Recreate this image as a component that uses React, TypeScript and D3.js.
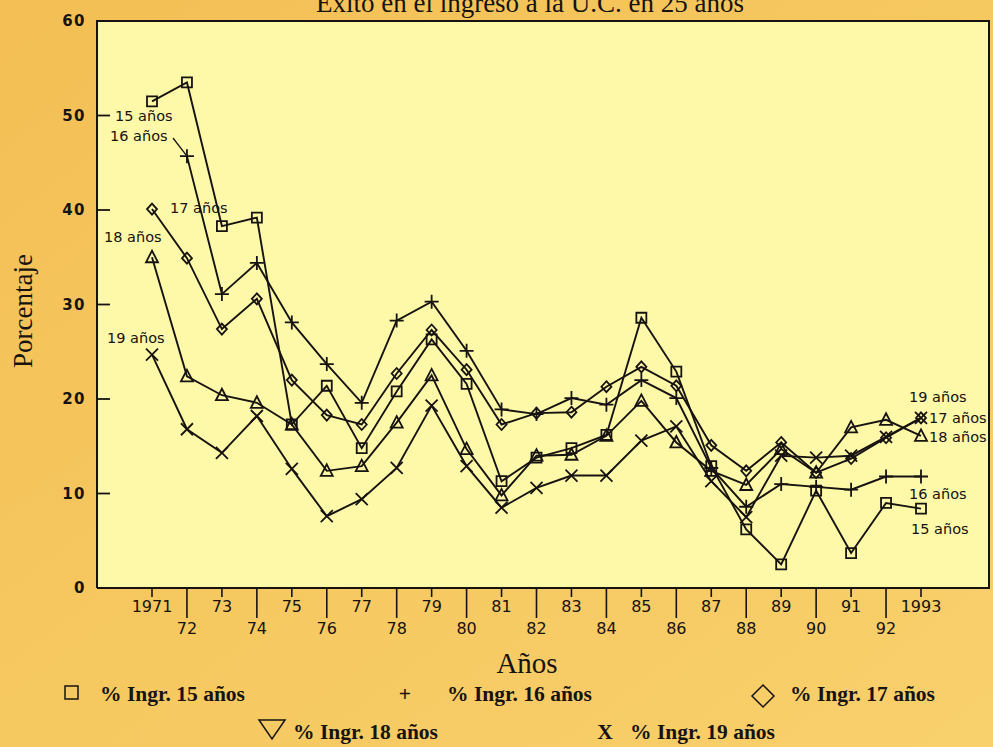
import React, { useEffect } from "react";
import * as d3 from "d3";

const years = [1971, 1972, 1973, 1974, 1975, 1976, 1977, 1978, 1979, 1980, 1981, 1982, 1983, 1984, 1985, 1986, 1987, 1988, 1989, 1990, 1991, 1992, 1993];
const s15 = [51.5, 53.5, 38.3, 39.2, 17.3, 21.4, 14.8, 20.8, 26.3, 21.6, 11.3, 13.8, 14.8, 16.2, 28.6, 22.9, 12.9, 6.2, 2.5, 10.3, 3.7, 9.0, 8.4];
const s16 = [null, 45.7, 31.1, 34.4, 28.1, 23.7, 19.6, 28.3, 30.3, 25.1, 18.9, 18.4, 20.1, 19.4, 22.0, 20.1, 12.7, 8.6, 11.0, 10.7, 10.4, 11.8, 11.8];
const s17 = [40.1, 34.9, 27.4, 30.6, 22.0, 18.3, 17.3, 22.7, 27.3, 23.1, 17.3, 18.5, 18.6, 21.3, 23.4, 21.4, 15.1, 12.4, 15.4, 12.2, 13.7, 15.9, 18.0];
const s18 = [35.0, 22.4, 20.4, 19.6, 17.3, 12.4, 12.9, 17.5, 22.5, 14.7, 9.8, 14.0, 14.1, 16.1, 19.8, 15.4, 12.4, 10.9, 14.7, 12.2, 17.0, 17.8, 16.1];
const s19 = [24.7, 16.8, 14.3, 18.2, 12.6, 7.6, 9.4, 12.7, 19.3, 12.9, 8.5, 10.6, 11.9, 11.9, 15.6, 17.1, 11.3, 7.5, 14.0, 13.8, 14.0, 16.0, 18.0];

const yTicks = [0, 10, 20, 30, 40, 50, 60];
const xLabels = ["1971", "72", "73", "74", "75", "76", "77", "78", "79", "80", "81", "82", "83", "84", "85", "86", "87", "88", "89", "90", "91", "92", "1993"];

const title = "Exito en el ingreso a la U.C. en 25 años";
const yTitle = "Porcentaje";
const xTitle = "Años";
const legendLabels = ["% Ingr. 15 años", "% Ingr. 16 años", "% Ingr. 17 años", "% Ingr. 18 años", "% Ingr. 19 años"];
const seriesNames = ["15 años", "16 años", "17 años", "18 años", "19 años"];

const W = 993, H = 747;
const L = 97, R = 989, T = 21, B = 588;
const INK = "#161310";

const x = d3.scaleLinear().domain([1971, 1993]).range([152, 921]);
const y = d3.scaleLinear().domain([0, 60]).range([B, T]);

const markerPath = (kind: string): string => {
  switch (kind) {
    case "square": return "M-5,-5H5V5H-5Z";
    case "plus": return "M-7,0H7M0,-7V7";
    case "diamond": return "M0,-5.5L5,0L0,5.5L-5,0Z";
    case "triangle": return "M0,-6.5L6,5L-6,5Z";
    case "x": return "M-6,-6L6,6M-6,6L6,-6";
    default: return "";
  }
};

const series = [
  { name: seriesNames[0], values: s15, marker: "square" },
  { name: seriesNames[1], values: s16, marker: "plus" },
  { name: seriesNames[2], values: s17, marker: "diamond" },
  { name: seriesNames[3], values: s18, marker: "triangle" },
  { name: seriesNames[4], values: s19, marker: "x" },
];

export default function App() {
  useEffect(() => {
    document.body.style.margin = "0";
  }, []);

  const line = d3
    .line<[number, number | null]>()
    .defined((d) => d[1] != null)
    .x((d) => x(d[0]))
    .y((d) => y(d[1] as number));

  const lblFont = "'DejaVu Sans', Verdana, sans-serif";
  const serif = "'Liberation Serif', 'Times New Roman', serif";

  return (
    <svg width={W} height={H} style={{ display: "block" }} xmlns="http://www.w3.org/2000/svg">
      <defs>
        <linearGradient id="bg" x1="0" y1="0" x2="1" y2="1">
          <stop offset="0" stopColor="#F3BF55" />
          <stop offset="0.5" stopColor="#F6C860" />
          <stop offset="1" stopColor="#F8D06C" />
        </linearGradient>
      </defs>
      <rect x={0} y={0} width={W} height={H} fill="url(#bg)" />
      <rect x={L} y={T} width={R - L} height={B - T} fill="#FEF8A9" />
      <path d={`M${L},${B}V${T}H${R}V${B}H${L}`} fill="none" stroke={INK} strokeWidth={2} />

      {/* title (cut off at the top edge, as in the reference) */}
      <text x={530} y={12} textAnchor="middle" fontFamily={serif} fontSize={27} fill={INK}>{title}</text>

      {/* y axis */}
      {yTicks.map((t) => (
        <g key={t}>
          {t > 0 && t < 60 && <line x1={L} x2={L + 13} y1={y(t)} y2={y(t)} stroke={INK} strokeWidth={1.8} />}
          <text x={86} y={y(t)} dy="0.36em" textAnchor="end" fontFamily={lblFont} fontWeight="bold" fontSize={15} letterSpacing={1.5} fill={INK}>{t}</text>
        </g>
      ))}
      <text transform={`translate(32,${311}) rotate(-90)`} textAnchor="middle" fontFamily={serif} fontSize={27} fill={INK}>{yTitle}</text>

      {/* x axis */}
      {years.map((yr, i) => {
        const even = yr % 2 === 0;
        return (
          <g key={yr}>
            <line x1={x(yr)} x2={x(yr)} y1={B} y2={even ? B + 30 : B + 9} stroke={INK} strokeWidth={1.6} />
            <text x={x(yr)} y={even ? 634 : 612} textAnchor="middle" fontFamily={lblFont} fontSize={16} fill={INK}>{xLabels[i]}</text>
          </g>
        );
      })}
      <text x={527} y={673} textAnchor="middle" fontFamily={serif} fontSize={29} fill={INK}>{xTitle}</text>

      {/* series */}
      {series.map((s) => {
        const pts = years.map((yr, i) => [yr, s.values[i]] as [number, number | null]);
        return (
          <g key={s.name}>
            <path d={line(pts) || ""} fill="none" stroke={INK} strokeWidth={1.9} />
            {pts.filter((p) => p[1] != null).map((p) => (
              <path key={p[0]} transform={`translate(${x(p[0])},${y(p[1] as number)})`} d={markerPath(s.marker)} fill="none" stroke={INK} strokeWidth={1.8} />
            ))}
          </g>
        );
      })}

      {/* in-plot series labels */}
      <g fontFamily={lblFont} fontSize={14.5} fill={INK}>
        <text x={115} y={121}>{seriesNames[0]}</text>
        <text x={110} y={141}>{seriesNames[1]}</text>
        <line x1={173} y1={138} x2={x(1972)} y2={y(s16[1] as number)} stroke={INK} strokeWidth={1.3} />
        <text x={170} y={213}>{seriesNames[2]}</text>
        <text x={104} y={242}>{seriesNames[3]}</text>
        <text x={107} y={343}>{seriesNames[4]}</text>
        <text x={909} y={402}>{seriesNames[4]}</text>
        <text x={929} y={423}>{seriesNames[2]}</text>
        <text x={929} y={442}>{seriesNames[3]}</text>
        <text x={909} y={499}>{seriesNames[1]}</text>
        <text x={911} y={534}>{seriesNames[0]}</text>
      </g>

      {/* legend */}
      <g fontFamily={serif} fontWeight="bold" fontSize={21.5} fill={INK}>
        <rect x={65} y={686} width={13} height={13} fill="none" stroke={INK} strokeWidth={1.5} />
        <text x={100} y={701}>{legendLabels[0]}</text>
        <text x={405} y={701} textAnchor="middle">+</text>
        <text x={447} y={701}>{legendLabels[1]}</text>
        <path d="M763,685L774,696L763,707L752,696Z" fill="none" stroke={INK} strokeWidth={1.5} />
        <text x={790} y={701}>{legendLabels[2]}</text>
        <path d="M259,720L285,720L272,739Z" fill="none" stroke={INK} strokeWidth={1.5} />
        <text x={293} y={739}>{legendLabels[3]}</text>
        <text x={605} y={739} textAnchor="middle">X</text>
        <text x={630} y={739}>{legendLabels[4]}</text>
      </g>
    </svg>
  );
}
